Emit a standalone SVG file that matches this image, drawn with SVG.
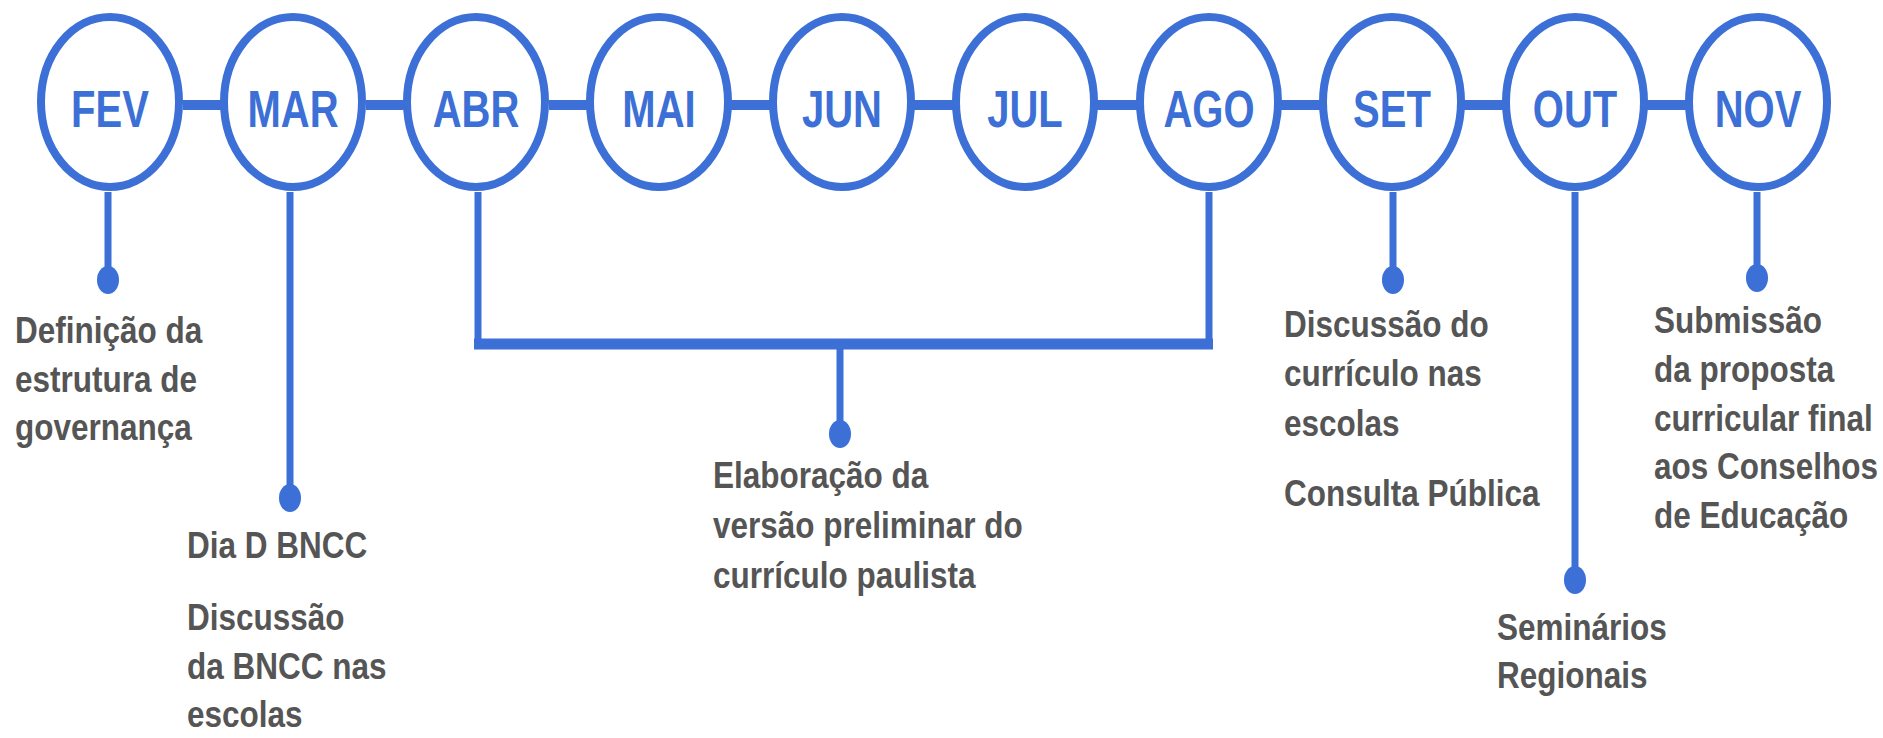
<svg xmlns="http://www.w3.org/2000/svg" width="1883" height="738" viewBox="0 0 1883 738">
<style>
.c{fill:#fff;stroke:#3c70d6;stroke-width:8}
.m{font-family:"Liberation Sans",Arial,sans-serif;font-weight:bold;font-size:40px;fill:#3c70d6;text-anchor:middle}
.l{stroke:#3c70d6;stroke-width:7;fill:none}
.h{stroke:#3c70d6;stroke-width:10;fill:none}
.d{fill:#3c70d6}
.t{font-family:"Liberation Sans",Arial,sans-serif;font-weight:bold;font-size:31.5px;fill:#555}
</style>
<rect width="1883" height="738" fill="#fff"/>
<g id="connectors">
<path class="h" d="M183 105H221M366 105H404M549 105H587M731 105H770M914 105H953M1097 105H1137M1281 105H1320M1464 105H1503M1647 105H1686"/>
<path class="l" d="M108 192V275M290 192V492M1393 192V275M1575 192V575M1757 192V273"/>
<path class="l" d="M478 192V343M1209 192V343M840 343V428"/>
<path class="h" d="M474 344H1213" style="stroke-width:11"/>
<ellipse class="d" cx="108" cy="280" rx="11" ry="14"/>
<ellipse class="d" cx="290" cy="498" rx="11" ry="14"/>
<ellipse class="d" cx="840" cy="434" rx="11" ry="14"/>
<ellipse class="d" cx="1393" cy="280" rx="11" ry="14"/>
<ellipse class="d" cx="1575" cy="580" rx="11" ry="14"/>
<ellipse class="d" cx="1757" cy="278" rx="11" ry="14"/>
</g>
<g id="fev"><ellipse class="c" cx="110" cy="102" rx="69" ry="85"/><text class="m" transform="translate(110,127) scale(1,1.3)">FEV</text></g>
<g id="mar"><ellipse class="c" cx="293" cy="102" rx="69" ry="85"/><text class="m" transform="translate(293,127) scale(1,1.3)">MAR</text></g>
<g id="abr"><ellipse class="c" cx="476" cy="102" rx="69" ry="85"/><text class="m" transform="translate(476,127) scale(1,1.3)">ABR</text></g>
<g id="mai"><ellipse class="c" cx="659" cy="102" rx="69" ry="85"/><text class="m" transform="translate(659,127) scale(1,1.3)">MAI</text></g>
<g id="jun"><ellipse class="c" cx="842" cy="102" rx="69" ry="85"/><text class="m" transform="translate(842,127) scale(1,1.3)">JUN</text></g>
<g id="jul"><ellipse class="c" cx="1025" cy="102" rx="69" ry="85"/><text class="m" transform="translate(1025,127) scale(1,1.3)">JUL</text></g>
<g id="ago"><ellipse class="c" cx="1209" cy="102" rx="69" ry="85"/><text class="m" transform="translate(1209,127) scale(1,1.3)">AGO</text></g>
<g id="set"><ellipse class="c" cx="1392" cy="102" rx="69" ry="85"/><text class="m" transform="translate(1392,127) scale(1,1.3)">SET</text></g>
<g id="out"><ellipse class="c" cx="1575" cy="102" rx="69" ry="85"/><text class="m" transform="translate(1575,127) scale(1,1.3)">OUT</text></g>
<g id="nov"><ellipse class="c" cx="1758" cy="102" rx="69" ry="85"/><text class="m" transform="translate(1758,127) scale(1,1.3)">NOV</text></g>
<g id="txt-fev">
<text class="t" transform="translate(15,343) scale(1,1.15)">Definição da</text>
<text class="t" transform="translate(15,392) scale(1,1.15)">estrutura de</text>
<text class="t" transform="translate(15,440) scale(1,1.15)">governança</text>
</g>
<g id="txt-mar">
<text class="t" transform="translate(187,558) scale(1,1.15)">Dia D BNCC</text>
<text class="t" transform="translate(187,630) scale(1,1.15)">Discussão</text>
<text class="t" transform="translate(187,679) scale(1,1.15)">da BNCC nas</text>
<text class="t" transform="translate(187,727) scale(1,1.15)">escolas</text>
</g>
<g id="txt-abr-ago">
<text class="t" transform="translate(713,488) scale(1,1.15)">Elaboração da</text>
<text class="t" transform="translate(713,538) scale(1,1.15)">versão preliminar do</text>
<text class="t" transform="translate(713,588) scale(1,1.15)">currículo paulista</text>
</g>
<g id="txt-set">
<text class="t" transform="translate(1284,337) scale(1,1.15)">Discussão do</text>
<text class="t" transform="translate(1284,386) scale(1,1.15)">currículo nas</text>
<text class="t" transform="translate(1284,436) scale(1,1.15)">escolas</text>
<text class="t" transform="translate(1284,506) scale(1,1.15)">Consulta Pública</text>
</g>
<g id="txt-out">
<text class="t" transform="translate(1497,640) scale(1,1.15)">Seminários</text>
<text class="t" transform="translate(1497,688) scale(1,1.15)">Regionais</text>
</g>
<g id="txt-nov">
<text class="t" transform="translate(1654,333) scale(1,1.15)">Submissão</text>
<text class="t" transform="translate(1654,382) scale(1,1.15)">da proposta</text>
<text class="t" transform="translate(1654,431) scale(1,1.15)">curricular final</text>
<text class="t" transform="translate(1654,479) scale(1,1.15)">aos Conselhos</text>
<text class="t" transform="translate(1654,528) scale(1,1.15)">de Educação</text>
</g>
</svg>
